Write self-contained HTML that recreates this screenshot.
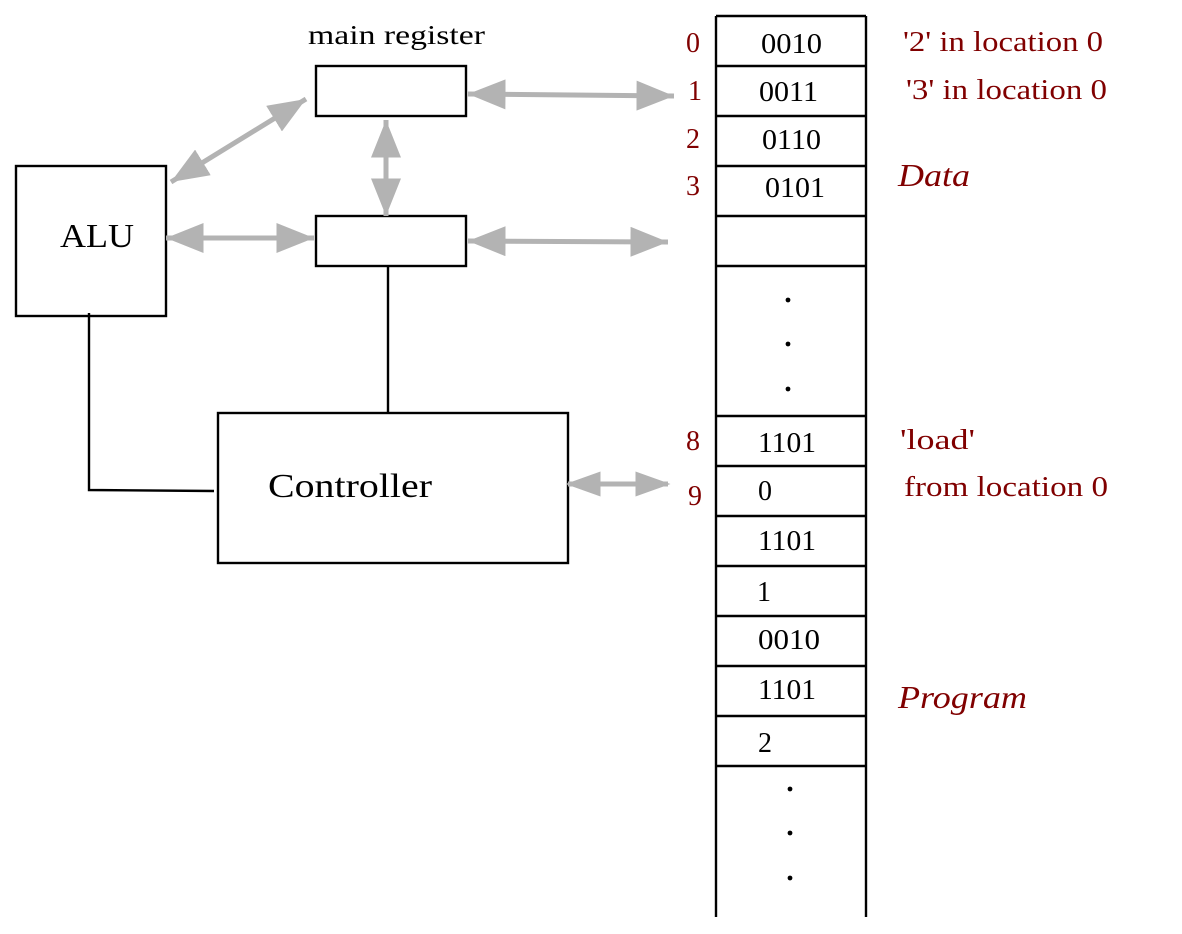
<!DOCTYPE html>
<html><head><style>body{margin:0;background:#fff}svg{display:block}text{}</style></head><body>
<svg width="1182" height="934" xmlns="http://www.w3.org/2000/svg" font-family="Liberation Serif, serif">
<defs>
<marker id="a" markerWidth="8" markerHeight="6" refX="7.5" refY="3" orient="auto-start-reverse" markerUnits="strokeWidth"><path d="M0,0 L7.5,3 L0,6 Z" fill="#b3b3b3"/></marker>
<marker id="b" markerWidth="7" markerHeight="5" refX="6.5" refY="2.5" orient="auto-start-reverse" markerUnits="strokeWidth"><path d="M0,0 L7,2.5 L0,5 Z" fill="#b3b3b3"/></marker>
</defs>
<g stroke="#000" stroke-width="2.4" fill="none">
<rect x="316" y="66" width="150" height="50"/>
<rect x="316" y="216" width="150" height="50"/>
<rect x="16" y="166" width="150" height="150"/>
<rect x="218" y="413" width="350" height="150"/>
<polyline points="89,313 89,490 214,491"/>
<line x1="388" y1="266" x2="388" y2="413"/>
<line x1="716" y1="16" x2="716" y2="917"/>
<line x1="866" y1="16" x2="866" y2="917"/>
<path d="M716 16H866M716 66H866M716 116H866M716 166H866M716 216H866M716 266H866M716 416H866M716 466H866M716 516H866M716 566H866M716 616H866M716 666H866M716 716H866M716 766H866"/>
</g>
<g stroke="#b3b3b3" stroke-width="5" fill="none">
<line x1="468" y1="94" x2="674" y2="96" marker-start="url(#a)" marker-end="url(#a)"/>
<line x1="468" y1="241" x2="668" y2="242" marker-start="url(#a)" marker-end="url(#a)"/>
<line x1="166" y1="238" x2="314" y2="238" marker-start="url(#a)" marker-end="url(#a)"/>
<line x1="386" y1="120" x2="386" y2="216" marker-start="url(#a)" marker-end="url(#a)"/>
<line x1="171" y1="182" x2="306" y2="99" marker-start="url(#a)" marker-end="url(#a)"/>
<line x1="568" y1="484" x2="668" y2="484" marker-start="url(#b)" marker-end="url(#b)"/>
</g>
<g fill="#000" font-size="28">
<text x="308" y="44" font-size="27" textLength="177" lengthAdjust="spacingAndGlyphs">main register</text>
<text x="60" y="247" font-size="34" textLength="74" lengthAdjust="spacingAndGlyphs">ALU</text>
<text x="268" y="497" font-size="34" textLength="164" lengthAdjust="spacingAndGlyphs">Controller</text>
<text x="761" y="53" textLength="61" lengthAdjust="spacingAndGlyphs">0010</text>
<text x="759" y="101" textLength="59" lengthAdjust="spacingAndGlyphs">0011</text>
<text x="762" y="149" textLength="59" lengthAdjust="spacingAndGlyphs">0110</text>
<text x="765" y="197" textLength="60" lengthAdjust="spacingAndGlyphs">0101</text>
<text x="758" y="452" textLength="58" lengthAdjust="spacingAndGlyphs">1101</text>
<text x="758" y="500">0</text>
<text x="758" y="550" textLength="58" lengthAdjust="spacingAndGlyphs">1101</text>
<text x="757" y="601">1</text>
<text x="758" y="649" textLength="62" lengthAdjust="spacingAndGlyphs">0010</text>
<text x="758" y="699" textLength="58" lengthAdjust="spacingAndGlyphs">1101</text>
<text x="758" y="752">2</text>
</g>
<g fill="#000">
<circle cx="788" cy="300" r="2.4"/><circle cx="788" cy="344" r="2.4"/><circle cx="788" cy="389" r="2.4"/>
<circle cx="790" cy="789" r="2.4"/><circle cx="790" cy="833" r="2.4"/><circle cx="790" cy="878" r="2.4"/>
</g>
<g fill="#800000" font-size="28">
<text x="686" y="52">0</text>
<text x="688" y="100">1</text>
<text x="686" y="148">2</text>
<text x="686" y="195">3</text>
<text x="686" y="450">8</text>
<text x="688" y="505">9</text>
<text x="903" y="51" textLength="200" lengthAdjust="spacingAndGlyphs">'2' in location 0</text>
<text x="906" y="99" textLength="201" lengthAdjust="spacingAndGlyphs">'3' in location 0</text>
<text x="898" y="186" font-style="italic" font-size="32" textLength="72" lengthAdjust="spacingAndGlyphs">Data</text>
<text x="900" y="449" textLength="75" lengthAdjust="spacingAndGlyphs">'load'</text>
<text x="904" y="496" textLength="204" lengthAdjust="spacingAndGlyphs">from location 0</text>
<text x="898" y="708" font-style="italic" font-size="32" textLength="129" lengthAdjust="spacingAndGlyphs">Program</text>
</g>
</svg>
</body></html>
